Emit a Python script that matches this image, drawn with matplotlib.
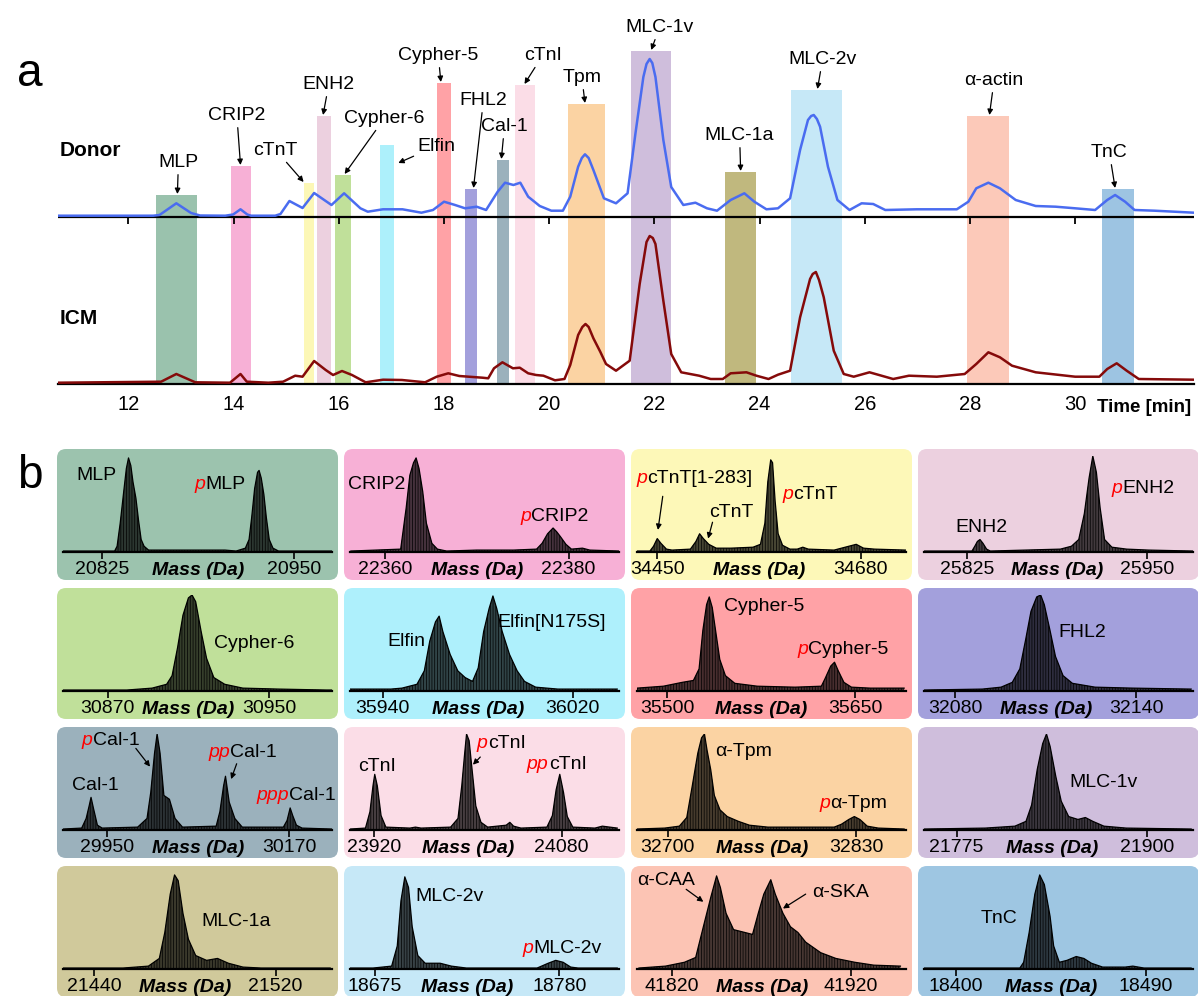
import matplotlib
matplotlib.use("Agg")
import matplotlib.pyplot as plt
from matplotlib.patches import FancyBboxPatch
from matplotlib.transforms import IdentityTransform

plt.rcParams['font.family'] = ['Liberation Sans', 'DejaVu Sans']
plt.rcParams['hatch.linewidth'] = 0.5

#==================== panel a : chromatograms ====================#
DONOR_T = [10.66, 12.47, 12.59, 12.91, 13.19, 13.36, 13.84, 13.99, 14.13, 14.26, 14.33, 14.79, 14.89,
           15.06, 15.31, 15.53, 15.86, 16.10, 16.41, 16.55, 16.84, 17.21, 17.57, 17.79, 18.00, 18.21,
           18.40, 18.62, 18.80, 19.02, 19.16, 19.32, 19.45, 19.60, 19.82, 20.04, 20.26, 20.40, 20.55,
           20.62, 20.68, 20.75, 20.84, 21.04, 21.27, 21.49, 21.64, 21.79, 21.85, 21.91, 21.96, 22.02,
           22.17, 22.32, 22.55, 22.78, 23.00, 23.19, 23.45, 23.71, 23.90, 24.13, 24.35, 24.58, 24.77,
           24.92, 24.98, 25.03, 25.09, 25.15, 25.30, 25.48, 25.71, 25.94, 26.16, 26.39, 26.99, 27.75,
           27.97, 28.12, 28.35, 28.57, 28.87, 29.25, 29.63, 30.00, 30.38, 30.61, 30.76, 30.95, 31.13,
           31.51, 32.26]
DONOR_H = [1.3, 1.3, 2, 13.7, 4, 1.5, 1.3, 2.5, 7.7, 2.5, 1.3, 1.3, 3,
           16, 9, 24, 12, 23.7, 8.7, 5.3, 7.7, 7.7, 4.3, 7, 15.3, 12,
           8.7, 10.3, 7, 25.3, 34.3, 32, 34.3, 20.3, 11, 6.3, 6.3, 20.3, 50.3,
           59, 62.7, 59, 47, 18.7, 13.7, 23.7, 83.7, 140, 153, 158, 154, 140,
           77, 30, 12, 14.3, 8.7, 6.3, 17, 23.7, 15.3, 7.7, 8.7, 18.7, 67,
           97, 101, 102, 98, 90.3, 50.3, 17, 7, 13.7, 13, 7, 7.7, 7.7,
           15.3, 28.7, 34.3, 28.7, 17, 11, 10.3, 8.7, 7, 17, 22, 15.3, 7,
           6.3, 4.3]

ICM_T = [10.66, 12.62, 12.91, 13.27, 13.93, 14.13, 14.25, 14.66, 14.94, 15.17, 15.31, 15.53, 15.75,
         15.89, 16.06, 16.25, 16.51, 16.84, 17.20, 17.64, 17.86, 18.08, 18.29, 18.73, 18.84, 18.95,
         19.11, 19.31, 19.44, 19.60, 19.75, 19.89, 20.11, 20.29, 20.40, 20.55, 20.63, 20.69, 20.75,
         20.84, 20.97, 21.08, 21.27, 21.53, 21.72, 21.85, 21.91, 21.97, 22.02, 22.17, 22.32, 22.51,
         22.85, 23.07, 23.30, 23.45, 23.75, 23.94, 24.17, 24.35, 24.58, 24.77, 24.96, 25.01, 25.07,
         25.13, 25.22, 25.41, 25.60, 25.79, 26.09, 26.54, 26.84, 27.37, 27.90, 28.12, 28.35, 28.57,
         28.80, 29.25, 30.00, 30.46, 30.61, 30.79, 30.98, 31.21, 32.26]
ICM_H = [1.3, 2.3, 10, 1.7, 1.3, 10, 2.3, 1.3, 2.3, 8.3, 7.3, 23, 14,
         9, 13, 9, 1.7, 4.3, 4, 1.7, 7.3, 10.7, 8, 6.3, 5.7, 15.7,
         21.7, 15.7, 16.3, 10.7, 9, 8.3, 3.7, 5, 19, 49, 57, 60, 57,
         45.7, 32.3, 20, 13.3, 23.3, 100, 142, 148, 146, 140, 83.3, 30, 11.7,
         8.3, 5, 5, 10.7, 11.7, 8.3, 5, 9.3, 13.3, 66.7, 105, 110, 112,
         104, 86.7, 33.3, 10, 7.3, 11.7, 5, 8.3, 7.3, 10, 20, 31.7, 26.7,
         18.3, 11.7, 7.3, 7.3, 15, 20.7, 13.3, 5, 4.3]

PROTEINS = ['MLP', 'CRIP2', 'cTnT', 'ENH2', 'Cypher-6', 'Elfin', 'Cypher-5', 'FHL2', 'Cal-1', 'cTnI',
            'Tpm', 'MLC-1v', 'MLC-1a', 'MLC-2v', 'α-actin', 'TnC']
BAR_START = [12.53, 13.95, 15.33, 15.59, 15.93, 16.79, 17.87, 18.40, 19.01, 19.35,
             20.36, 21.55, 23.34, 24.59, 27.95, 30.52]
BAR_END = [13.31, 14.33, 15.53, 15.86, 16.24, 17.05, 18.14, 18.63, 19.24, 19.73,
           21.06, 22.32, 23.94, 25.57, 28.75, 31.11]
BAR_TOP = [22, 51, 34, 101, 42, 72, 134, 28, 57, 132, 113, 166, 45, 127, 101, 28]
BAR_COLORS = ['#9ac2ad', '#f7b0d6', '#fcf7b6', '#ecd0df', '#c0e09a', '#adf0fb', '#ffa2a6', '#a3a0dc',
              '#9bb1bc', '#fbdde7', '#fbd3a3', '#cfbedc', '#c0b87e', '#c6e8f7', '#fcc9b9', '#9dc4e2']
# label centre (t, h) and arrow tip (t, h); h measured above the donor baseline
LABEL_T = [12.95, 14.06, 14.80, 15.81, 16.87, 17.86, 17.89, 18.75, 19.15, 19.88,
           20.62, 22.10, 23.62, 25.20, 28.46, 30.65]
LABEL_H = [55, 102, 67, 133, 99, 71, 162, 117, 91, 162, 140, 190, 82, 158, 137, 65]
TIP_T = [12.93, 14.13, 15.33, 15.70, 16.11, 17.13, 17.94, 18.56, 19.09, 19.53,
         20.68, 21.94, 23.64, 25.10, 28.37, 30.76]
TIP_H = [23, 52, 35, 102, 43, 54, 135, 29, 58, 133, 114, 167, 46, 128, 102, 29]

#==================== panel b : deconvoluted spectra ====================#
BOX_COLORS = ['#9cc3ae', '#f7b0d6', '#fdf8b8', '#ecd0df', '#c0e09a', '#aef0fc', '#ffa2a6', '#a3a0dc',
              '#9bb1bc', '#fbdde7', '#fbd3a3', '#cfbedc', '#d0c99b', '#c6e8f7', '#fcc4b4', '#9ec6e2']

MLP_M = [20800, 20833.4, 20835.0, 20837.0, 20839.3, 20841.0, 20842.4, 20843.9, 20845.3, 20847.2, 20848.9,
         20850.6, 20852.5, 20855.4, 20880, 20905, 20912.2, 20918.2, 20920.6, 20922.3, 20924.2, 20926.1,
         20927.1, 20928.5, 20930.2, 20931.8, 20933.7, 20936.1, 20939.7, 20974]
MLP_I = [1, 1, 6, 30, 63, 87, 98, 90, 73, 56, 33, 13, 6, 2, 2, 2, 1, 4, 13, 36, 66, 83, 85, 77, 60, 36,
         13, 4, 1, 1]
CRIP2_M = [22356.3, 22361.72, 22362.32, 22362.72, 22363.12, 22363.4, 22363.72, 22364.12, 22364.52,
           22365.12, 22365.72, 22366.72, 22370, 22374, 22376.52, 22377.12, 22377.72, 22378.32, 22378.72,
           22379.12, 22379.72, 22380.32, 22381.52, 22382.32, 22385.5]
CRIP2_I = [1, 3, 46, 80, 93, 98, 87, 63, 30, 9, 3, 1, 2, 2, 3, 9, 19, 25, 21, 16, 8, 3, 4, 2, 1]
CTNT_M = [34427.1, 34441.7, 34445.8, 34450, 34454.2, 34460.4, 34466.7, 34487.5, 34493.75, 34497.9,
          34502.1, 34508.3, 34516.7, 34533.3, 34558.3, 34566.7, 34571.7, 34575, 34578.3, 34580.4,
          34583.3, 34586.7, 34591.7, 34600, 34608.3, 34614.6, 34620.8, 34650, 34675, 34683.3, 34695.8,
          34731]
CTNT_I = [1, 1, 6, 14, 9, 3, 2, 3, 11, 19, 14, 8, 4, 4, 5, 8, 30, 73, 96, 93, 53, 19, 7, 3, 3, 5, 3,
          2, 8, 4, 3, 2]
ENH2_M = [25794.7, 25828.1, 25830.1, 25831.9, 25833.7, 25835.8, 25838.3, 25840.9, 25889.7, 25897.4,
          25902.5, 25906.4, 25909.7, 25912.3, 25914.8, 25917.4, 25920.5, 25925.6, 25935.9, 25951.3,
          25982]
ENH2_I = [1, 1, 6, 11, 13, 9, 3, 1, 3, 6, 13, 40, 77, 100, 83, 46, 13, 5, 3, 2, 1]
CYPH6_M = [30847.8, 30879.4, 30892.0, 30899.2, 30901.9, 30904.6, 30907.3, 30910.0, 30911.8, 30913.6,
           30916.3, 30919.0, 30922.6, 30928.0, 30937.0, 30955.0, 30978.5, 30981]
CYPH6_I = [1, 1, 3, 7, 16, 45, 79, 97, 100, 93, 62, 34, 14, 7, 3, 2, 1, 1]
ELFIN_M = [35926.25, 35943.4, 35948.1, 35954.4, 35957.5, 35959.8, 35962.2, 35963.75, 35965.3, 35968.4,
           35971.6, 35974.7, 35977.8, 35980.2, 35982.5, 35984.8, 35986.4, 35988.0, 35990.3, 35993.4,
           35996.6, 35999.7, 36004.4, 36013.75, 36038.75]
ELFIN_I = [2, 2, 3, 7, 21, 52, 72, 78, 62, 38, 21, 14, 10, 24, 62, 86, 99, 86, 62, 38, 21, 10, 4, 2, 2]
CYPH5_M = [35476, 35497, 35512, 35521, 35525.5, 35528.5, 35531.5, 35533.6, 35536, 35539, 35542, 35546.5,
           35554, 35572, 35602, 35623, 35626, 35630.5, 35633.5, 35636.5, 35641, 35647, 35662, 35689]
CYPH5_I = [3, 5, 9, 11, 23, 63, 90, 98, 87, 60, 33, 16, 8, 5, 4, 5, 13, 26, 30, 21, 9, 4, 3, 3]
FHL2_M = [32069.7, 32089.0, 32095.2, 32098.9, 32101.4, 32103.3, 32105.1, 32107.0, 32108.3, 32109.5,
          32111.4, 32113.2, 32115.7, 32118.8, 32126.3, 32138.8, 32158.1]
FHL2_I = [1, 2, 4, 9, 23, 53, 83, 98, 100, 90, 63, 36, 16, 8, 4, 3, 2]
CAL1_M = [29896.7, 29919.3, 29924.7, 29928.3, 29930.6, 29933.7, 29938.3, 29944.1, 29987.0, 29998.3,
          30002.8, 30007.4, 30010.5, 30014.1, 30018.7, 30025.4, 30032.2, 30041.2, 30081.9, 30086.4,
          30090.9, 30093.2, 30097.7, 30104.5, 30113.5, 30163.2, 30167.7, 30171.4, 30174.5, 30179.0,
          30185.8, 30222]
CAL1_I = [1, 2, 12, 25, 34, 22, 5, 2, 3, 12, 39, 80, 100, 80, 36, 32, 12, 3, 4, 19, 46, 56, 29, 12, 3,
          3, 10, 23, 15, 5, 2, 1]
CTNI_M = [23899.5, 23912.7, 23916.5, 23919.1, 23920.6, 23922.8, 23926.0, 23930.1, 23950.6, 23955.3,
          23960.1, 23985.3, 23991.6, 23994.8, 23997.3, 23998.9, 24001.1, 24003.6, 24006.8, 24011.2,
          24016.9, 24032.7, 24035.8, 24039.0, 24045.3, 24067.4, 24072.1, 24075.3, 24078.4, 24081.6,
          24084.8, 24089.5, 24108.4, 24114.7, 24127.4]
CTNI_I = [1, 2, 19, 46, 58, 46, 15, 3, 2, 3, 2, 3, 12, 46, 80, 100, 93, 63, 25, 8, 3, 5, 8, 4, 2, 3,
          15, 42, 58, 39, 14, 3, 2, 4, 2]
TPM_M = [32678.9, 32698.0, 32708.1, 32713.2, 32717.0, 32720.8, 32723.4, 32725.4, 32727.2, 32729.7,
         32732.2, 32736.1, 32741.1, 32748.8, 32756.4, 32769.1, 32814.8, 32819.8, 32824.9, 32828.7,
         32832.5, 32837.6, 32845.2, 32863.0]
TPM_I = [1, 2, 4, 13, 46, 80, 96, 100, 83, 63, 36, 21, 14, 9, 5, 3, 3, 6, 11, 14, 11, 4, 2, 1]
MLC1V_M = [21753.5, 21793.8, 21803.6, 21813.3, 21820.6, 21824.3, 21828.0, 21831.6, 21834.1, 21836.5,
           21840.2, 21843.8, 21848.7, 21854.8, 21859.7, 21864.6, 21871.9, 21886.6, 21929.3]
MLC1V_I = [1, 2, 3, 4, 9, 26, 63, 90, 100, 87, 56, 30, 14, 11, 13, 9, 4, 2, 1]
MLC1A_M = [21426.4, 21452.8, 21464.0, 21468.8, 21471.2, 21473.6, 21475.5, 21477.1, 21479.2, 21481.6,
           21484.8, 21489.6, 21494.4, 21499.2, 21505.6, 21513.6, 21544]
MLC1A_I = [1, 1, 3, 11, 38, 78, 98, 92, 58, 31, 14, 9, 11, 6, 2, 1, 1]
MLC2V_M = [18660.8, 18673.9, 18684.5, 18687.7, 18689.8, 18692.0, 18694.1, 18696.2, 18699.4, 18703.6,
           18712.1, 18718.5, 18727.0, 18767.3, 18773.6, 18777.9, 18782.1, 18786.4, 18790.6, 18812.9]
MLC2V_I = [1, 1, 3, 24, 71, 96, 85, 44, 14, 6, 6, 3, 1, 1, 6, 9, 7, 2, 1, 1]
ACTIN_M = [41801.4, 41816.2, 41826.8, 41833.1, 41837.4, 41841.6, 41844.8, 41846.9, 41850.1, 41854.3,
           41860.7, 41864.9, 41868.1, 41871.2, 41875.1, 41877.6, 41881.9, 41886.1, 41890.3, 41894.6,
           41903.0, 41911.5, 41922.1, 41932.7, 41947.6]
ACTIN_I = [1, 3, 7, 12, 44, 75, 97, 85, 58, 41, 38, 36, 58, 78, 93, 78, 58, 44, 38, 28, 17, 11, 7, 4, 3]
TNC_M = [18384.9, 18430.3, 18432.1, 18434.7, 18437.4, 18439.7, 18441.9, 18444.6, 18446.3, 18449.0,
         18452.6, 18457.0, 18460.6, 18464.2, 18469.5, 18480.2, 18483.8, 18489.1, 18511.4]
TNC_I = [1, 1, 7, 38, 78, 98, 88, 55, 24, 7, 9, 13, 11, 6, 2, 2, 3, 1, 1]

SPEC_MASS = [MLP_M, CRIP2_M, CTNT_M, ENH2_M, CYPH6_M, ELFIN_M, CYPH5_M, FHL2_M,
             CAL1_M, CTNI_M, TPM_M, MLC1V_M, MLC1A_M, MLC2V_M, ACTIN_M, TNC_M]
SPEC_INT = [MLP_I, CRIP2_I, CTNT_I, ENH2_I, CYPH6_I, ELFIN_I, CYPH5_I, FHL2_I,
            CAL1_I, CTNI_I, TPM_I, MLC1V_I, MLC1A_I, MLC2V_I, ACTIN_I, TNC_I]
SPEC_XLIM = [(20799.9, 20974.4), (22356.2, 22385.5), (34427.1, 34731.3), (25794.7, 25982.1),
             (30847.8, 30981.2), (35926.2, 36039.5), (35476, 35690.5), (32069.7, 32158.7),
             (29896.7, 30222), (23899.5, 24128.9), (32678.9, 32864.3), (21753.5, 21930.5),
             (21426.4, 21544.8), (18660.8, 18813.9), (41800.3, 41950.7), (18384.9, 18512.3)]
SPEC_TICKS = [(20825, 20950), (22360, 22380), (34450, 34680), (25825, 25950),
              (30870, 30950), (35940, 36020), (35500, 35650), (32080, 32140),
              (29950, 30170), (23920, 24080), (32700, 32830), (21775, 21900),
              (21440, 21520), (18675, 18780), (41820, 41920), (18400, 18490)]
# (prefix, name, mass, intensity, ha)
SPEC_LABELS = [
    [('', 'MLP', 20821.4, 80, 'center'), ('p', 'MLP', 20892.4, 70, 'left')],
    [('', 'CRIP2', 22359.1, 70, 'center'), ('p', 'CRIP2', 22375.9, 37, 'left')],
    [('p', 'cTnT[1-283]', 34438.3, 77, 'left'), ('', 'cTnT', 34533.3, 41, 'center'),
     ('p', 'cTnT', 34604.2, 60, 'left')],
    [('', 'ENH2', 25834.5, 25, 'center'), ('p', 'ENH2', 25932.8, 66, 'left')],
    [('', 'Cypher-6', 30942.8, 50, 'center')],
    [('', 'Elfin', 35950, 52, 'center'), ('', 'Elfin[N175S]', 35988.4, 71, 'left')],
    [('', 'Cypher-5', 35577.4, 88, 'center'), ('p', 'Cypher-5', 35612.5, 43, 'left')],
    [('', 'FHL2', 32122.2, 61, 'center')],
    [('', 'Cal-1', 29936, 46, 'center'), ('p', 'Cal-1', 29932.8, 93, 'left'),
     ('pp', 'Cal-1', 30099.1, 81, 'left'), ('ppp', 'Cal-1', 30170, 36, 'left')],
    [('', 'cTnI', 23922.5, 66, 'center'), ('p', 'cTnI', 24016.9, 90, 'left'),
     ('pp', 'cTnI', 24068.9, 68, 'left')],
    [('', 'α-Tpm', 32752.6, 82, 'center'), ('p', 'α-Tpm', 32812.2, 28, 'left')],
    [('', 'MLC-1v', 21871.9, 50, 'center')],
    [('', 'MLC-1a', 21502.7, 50, 'center')],
    [('', 'MLC-2v', 18717.4, 76, 'center'), ('p', 'MLC-2v', 18765.1, 21, 'left')],
    [('', 'α-CAA', 41816.6, 92, 'center'), ('', 'α-SKA', 41913.9, 80, 'center')],
    [('', 'TnC', 18420.5, 53, 'center')],
]
# arrows: (from mass, from int, to mass, to int)
SPEC_ARROWS = [[], [], [(34456.2, 58, 34450.8, 23), (34512.5, 31, 34507.5, 14)], [], [], [], [], [],
               [(29984.8, 85, 30002.0, 66), (30106.7, 69, 30100.0, 53)],
               [(24010.6, 76, 24004.3, 68)], [], [], [], [],
               [(41827.8, 83, 41837.4, 70), (41894.6, 78, 41881.9, 63)], []]

#=================================================================#
W, H = 1198, 996
DONOR_OFF = 167
LAB_FS = 14
fig = plt.figure(figsize=(W / 100, H / 100), dpi=100)


def fx(px):
    return px / W


def fy(py):
    return 1 - py / H


# ---------- panel a ----------
ax = fig.add_axes([fx(58), fy(384), (1194 - 58) / W, 384 / H])
ax.set_xlim(10.66, 32.26)
ax.set_ylim(0, 384)
ax.patch.set_alpha(0)
for s in ['top', 'left', 'right']:
    ax.spines[s].set_visible(False)
ax.spines['bottom'].set_linewidth(1.6)
ax.set_yticks([])
ax.set_xticks(range(12, 31, 2))
ax.tick_params(axis='x', length=0, pad=8, labelsize=14.5)

ax.bar(BAR_START, [DONOR_OFF + t for t in BAR_TOP], width=[e - s for s, e in zip(BAR_START, BAR_END)],
       align='edge', color=BAR_COLORS, edgecolor='none', zorder=1)
ax.plot(ICM_T, ICM_H, color='#850a0a', lw=1.8, zorder=3)
ax.plot(DONOR_T, [DONOR_OFF + h for h in DONOR_H], color='#4a6cf0', lw=1.8, zorder=3)
ax.axhline(DONOR_OFF, color='black', lw=1.6, zorder=2)
ax.vlines(range(12, 31, 2), DONOR_OFF - 7, DONOR_OFF, color='black', lw=1.3, zorder=2)

for name, lt, lh, tt, th in zip(PROTEINS, LABEL_T, LABEL_H, TIP_T, TIP_H):
    ax.annotate(name, xy=(tt, DONOR_OFF + th), xytext=(lt, DONOR_OFF + lh), ha='center', va='center',
                fontsize=LAB_FS, zorder=5,
                arrowprops=dict(arrowstyle='-|>', color='black', lw=0.9, mutation_scale=8,
                                shrinkA=1, shrinkB=0))

ax.text(10.70, DONOR_OFF + 67, 'Donor', fontsize=15, fontweight='bold', va='center', ha='left')
ax.text(10.70, 66, 'ICM', fontsize=15, fontweight='bold', va='center', ha='left')
fig.text(fx(1144), fy(408), 'Time [min]', fontsize=13.5, fontweight='bold', ha='center', va='center')
fig.text(fx(30), fy(74), 'a', fontsize=33, ha='center', va='center')
fig.text(fx(30), fy(476), 'b', fontsize=33, ha='center', va='center')

# ---------- panel b ----------
BW, BH = 281, 131
for i in range(16):
    r, c = divmod(i, 4)
    left = 57 + c * 287
    top = 449 + r * 139
    box = FancyBboxPatch((left, H - top - BH), BW, BH, boxstyle='round,pad=0,rounding_size=9',
                         transform=IdentityTransform(), facecolor=BOX_COLORS[i], edgecolor='none', zorder=0)
    fig.add_artist(box)

    sx = fig.add_axes([fx(left + 6), fy(top + 103), (BW - 12) / W, 96 / H])
    sx.patch.set_alpha(0)
    sx.set_xlim(*SPEC_XLIM[i])
    sx.set_ylim(0, 100)
    for s in ['top', 'left', 'right']:
        sx.spines[s].set_visible(False)
    sx.spines['bottom'].set_linewidth(1.6)
    sx.set_yticks([])
    sx.set_xticks(SPEC_TICKS[i])
    sx.set_xticklabels([str(t) for t in SPEC_TICKS[i]])
    sx.tick_params(axis='x', direction='out', length=5, width=1.2, pad=1.5, labelsize=14)

    m, y = SPEC_MASS[i], SPEC_INT[i]
    sx.fill_between(m, 0, y, facecolor=(0, 0, 0, 0.72), edgecolor='black', hatch='||||||', linewidth=0)
    sx.plot(m, y, color='black', lw=0.9)

    lo, hi = SPEC_XLIM[i]
    t1, t2 = SPEC_TICKS[i]
    mid = ((t1 + t2) / 2 - lo) / (hi - lo)
    sx.text(mid, -0.19, 'Mass (Da)', transform=sx.transAxes, ha='center', va='center',
            fontsize=14, fontweight='bold', fontstyle='italic')

    for prefix, name, lm, lh, ha in SPEC_LABELS[i]:
        if prefix:
            sx.text(lm, lh, prefix, color='red', fontstyle='italic', fontsize=LAB_FS, ha='right', va='center')
            sx.text(lm, lh, name, fontsize=LAB_FS, ha='left', va='center')
        else:
            sx.text(lm, lh, name, fontsize=LAB_FS, ha=ha, va='center')
    for m0, h0, m1, h1 in SPEC_ARROWS[i]:
        sx.annotate('', xy=(m1, h1), xytext=(m0, h0),
                    arrowprops=dict(arrowstyle='-|>', color='black', lw=0.9, mutation_scale=8,
                                    shrinkA=0, shrinkB=0))

fig.savefig('out.png', dpi=100)
